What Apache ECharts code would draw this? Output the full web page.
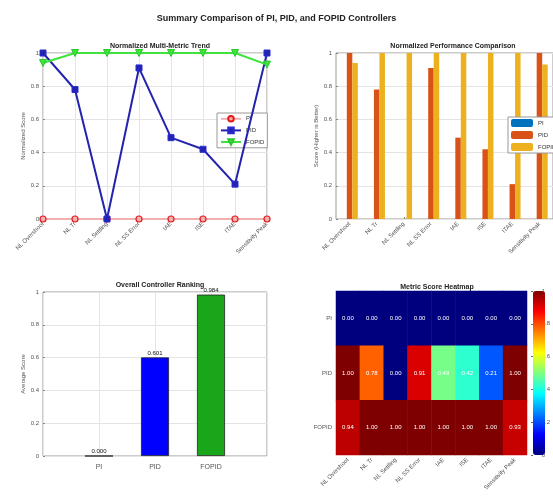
<!DOCTYPE html>
<html>
<head>
<meta charset="utf-8">
<script src="https://cdn.jsdelivr.net/npm/echarts@6/dist/echarts.min.js"></script>
<style>
  html, body { margin: 0; padding: 0; background: #fff; overflow: hidden; }
  #chart { width: 553px; height: 500px; }
</style>
</head>
<body>
<div id="chart"></div>
<script>
// Metric names shown on the category axes
const categories = ['NL Overshoot', 'NL Tr', 'NL Settling', 'NL SS Error', 'IAE', 'ISE', 'ITAE', 'Sensitivity Peak'];
const controllers = ['PI', 'PID', 'FOPID'];

// Normalized scores per controller (higher is better)
const piScores = [0, 0, 0, 0, 0, 0, 0, 0];
const pidScores = [1.00, 0.78, 0.00, 0.91, 0.49, 0.42, 0.21, 1.00];
const fopidScores = [0.94, 1.00, 1.00, 1.00, 1.00, 1.00, 1.00, 0.93];

// Mean score per controller
const averageScores = [0.000, 0.601, 0.984];

// Shared score-axis ticks
const scoreTicks = [0, 0.2, 0.4, 0.6, 0.8, 1];

const FONT = 'Liberation Sans, Arial, sans-serif';
const tickFont = { fontSize: 6, color: '#555', fontFamily: FONT };
const gridLine = { show: true, lineStyle: { color: '#e4e4e4', width: 1 } };
const boxGrid = { show: true, borderColor: '#9a9a9a', borderWidth: 1, backgroundColor: '#fff' };

function scoreAxis(gridIndex, name) {
  return {
    type: 'value', gridIndex, min: scoreTicks[0], max: scoreTicks[scoreTicks.length - 1], interval: 0.2,
    name, nameLocation: 'middle', nameGap: 16, nameRotate: 90,
    nameTextStyle: { fontSize: 6, color: '#555', fontFamily: FONT },
    axisLine: { show: false }, axisTick: { show: true, length: 2, inside: true, lineStyle: { color: '#888' } },
    axisLabel: Object.assign({ margin: 4, formatter: v => String(+v.toFixed(1)) }, tickFont),
    splitLine: gridLine
  };
}

function categoryAxis(gridIndex, boundaryGap, vGrid) {
  return {
    type: 'category', gridIndex, data: categories, boundaryGap,
    axisLine: { show: false }, axisTick: { show: true, length: 2, inside: true, alignWithLabel: true, lineStyle: { color: '#888' } },
    axisLabel: Object.assign({ rotate: 45, margin: 4, interval: 0 }, tickFont),
    splitLine: vGrid ? gridLine : { show: false }
  };
}

const heatData = [];
[piScores, pidScores, fopidScores].forEach((row, r) => {
  row.forEach((v, c) => heatData.push([c, r, v]));
});

const jet = ['#00007f', '#0000ff', '#007fff', '#00ffff', '#7fff7f', '#ffff00', '#ff7f00', '#ff0000', '#7f0000'];
const barColors = ['#0000ff', '#0000ff', '#1aa61a'];

const option = {
  backgroundColor: '#fff',
  animation: false,
  textStyle: { fontFamily: FONT },
  title: [
    { text: 'Summary Comparison of PI, PID, and FOPID Controllers', left: 'center', top: 9,
      textStyle: { fontSize: 9, fontWeight: 'bold', color: '#222', fontFamily: FONT } },
    { text: 'Normalized Multi-Metric Trend', left: 155, textAlign: 'center', top: 38,
      textStyle: { fontSize: 7, fontWeight: 'bold', color: '#222', fontFamily: FONT } },
    { text: 'Normalized Performance Comparison', left: 448, textAlign: 'center', top: 38,
      textStyle: { fontSize: 7, fontWeight: 'bold', color: '#222', fontFamily: FONT } },
    { text: 'Overall Controller Ranking', left: 155, textAlign: 'center', top: 277,
      textStyle: { fontSize: 7, fontWeight: 'bold', color: '#222', fontFamily: FONT } },
    { text: 'Metric Score Heatmap', left: 432, textAlign: 'center', top: 279,
      textStyle: { fontSize: 7, fontWeight: 'bold', color: '#222', fontFamily: FONT } }
  ],
  legend: [
    { data: controllers, orient: 'vertical', left: 217, top: 113, itemGap: 4, itemWidth: 20, itemHeight: 7,
      padding: [2, 3], backgroundColor: '#fff', borderColor: '#999', borderWidth: 1,
      textStyle: { fontSize: 6, color: '#333' } },
    { data: controllers.map(c => c + ' (bars)'), orient: 'vertical', left: 508, top: 117, itemGap: 4, itemWidth: 22, itemHeight: 8,
      padding: [2, 3], backgroundColor: '#fff', borderColor: '#999', borderWidth: 1,
      formatter: n => n.replace(' (bars)', ''), textStyle: { fontSize: 6, color: '#333' } }
  ],
  grid: [
    Object.assign({ left: 43, top: 53, width: 224, height: 166 }, boxGrid),
    Object.assign({ left: 336, top: 53, width: 224, height: 166 }, boxGrid),
    Object.assign({ left: 43, top: 292, width: 224, height: 164 }, boxGrid),
    { left: 336, top: 291, width: 191, height: 164, show: false },
    { left: 533, top: 291, width: 12, height: 164, show: false }
  ],
  xAxis: [
    categoryAxis(0, false, true),
    categoryAxis(1, true, false),
    {
      type: 'value', gridIndex: 2, min: 0, max: 4, interval: 1,
      axisLine: { show: false }, axisTick: { show: false },
      axisLabel: Object.assign({ margin: 8, showMinLabel: false, showMaxLabel: false,
        formatter: v => controllers[v - 1] || '' }, tickFont, { fontSize: 7 }),
      splitLine: gridLine
    },
    {
      type: 'category', gridIndex: 3, data: categories,
      axisLine: { show: false }, axisTick: { show: false },
      axisLabel: Object.assign({ rotate: 45, margin: 4, interval: 0 }, tickFont),
      splitLine: { show: false }
    },
    { type: 'value', gridIndex: 4, show: false, min: 0, max: 1 }
  ],
  yAxis: [
    scoreAxis(0, 'Normalized Score'),
    scoreAxis(1, 'Score (Higher is Better)'),
    scoreAxis(2, 'Average Score'),
    {
      type: 'category', gridIndex: 3, data: controllers, inverse: true,
      axisLine: { show: false }, axisTick: { show: false },
      axisLabel: Object.assign({ margin: 4 }, tickFont), splitLine: { show: false }
    },
    {
      type: 'value', gridIndex: 4, position: 'right', min: 0, max: 1, interval: 0.2,
      axisLine: { show: false }, axisTick: { show: true, length: 2, inside: true, lineStyle: { color: '#666' } },
      axisLabel: Object.assign({ margin: 3, formatter: v => String(+v.toFixed(1)) }, tickFont),
      splitLine: { show: false }
    }
  ],
  visualMap: {
    type: 'continuous', seriesIndex: 7, min: 0, max: 1, calculable: false,
    orient: 'vertical', left: 533, top: 291, itemWidth: 12, itemHeight: 164,
    text: ['', ''], showLabel: false, inRange: { color: jet },
    textStyle: { fontSize: 1 }, padding: 0
  },
  series: [
    { name: 'PI', type: 'line', xAxisIndex: 0, yAxisIndex: 0, data: piScores,
      color: '#e8191b', lineStyle: { width: 2 }, symbol: 'circle', symbolSize: 6,
      itemStyle: { color: '#f3b0b0', borderColor: '#e8191b', borderWidth: 1.2 }, z: 3 },
    { name: 'PID', type: 'line', xAxisIndex: 0, yAxisIndex: 0, data: pidScores,
      color: '#2b2bd6', lineStyle: { width: 2 }, symbol: 'rect', symbolSize: 6,
      itemStyle: { color: '#2323b0', borderColor: '#2b2bd6', borderWidth: 1 }, z: 4 },
    { name: 'FOPID', type: 'line', xAxisIndex: 0, yAxisIndex: 0, data: fopidScores,
      color: '#3ee33e', lineStyle: { width: 2 }, symbol: 'triangle', symbolRotate: 180, symbolSize: 7,
      itemStyle: { color: '#3ee33e', borderColor: '#2bc92b', borderWidth: 1 }, z: 5 },
    { name: 'PI (bars)', type: 'bar', xAxisIndex: 1, yAxisIndex: 1, data: piScores,
      barWidth: 5.5, barGap: '0%', itemStyle: { color: '#0072bd' } },
    { name: 'PID (bars)', type: 'bar', xAxisIndex: 1, yAxisIndex: 1, data: pidScores,
      barWidth: 5.5, barGap: '0%', itemStyle: { color: '#d95319' } },
    { name: 'FOPID (bars)', type: 'bar', xAxisIndex: 1, yAxisIndex: 1, data: fopidScores,
      barWidth: 5.5, barGap: '0%', itemStyle: { color: '#edb120' } },
    { name: 'Average', type: 'bar', xAxisIndex: 2, yAxisIndex: 2, barWidth: 28,
      data: averageScores.map((v, i) => ({ value: [i + 1, v], itemStyle: { color: barColors[i] } })),
      itemStyle: { borderColor: '#222', borderWidth: 0.8 },
      label: { show: true, position: 'top', distance: 1, fontSize: 6, color: '#111',
        formatter: p => p.value[1].toFixed(3) } },
    { name: 'Heatmap', type: 'heatmap', xAxisIndex: 3, yAxisIndex: 3, data: heatData,
      label: { show: true, color: '#fff', fontSize: 6, formatter: p => p.value[2].toFixed(2) } }
  ]
};

const chart = echarts.init(document.getElementById('chart'), null, { renderer: 'canvas' });
chart.setOption(option);
</script>
</body>
</html>
